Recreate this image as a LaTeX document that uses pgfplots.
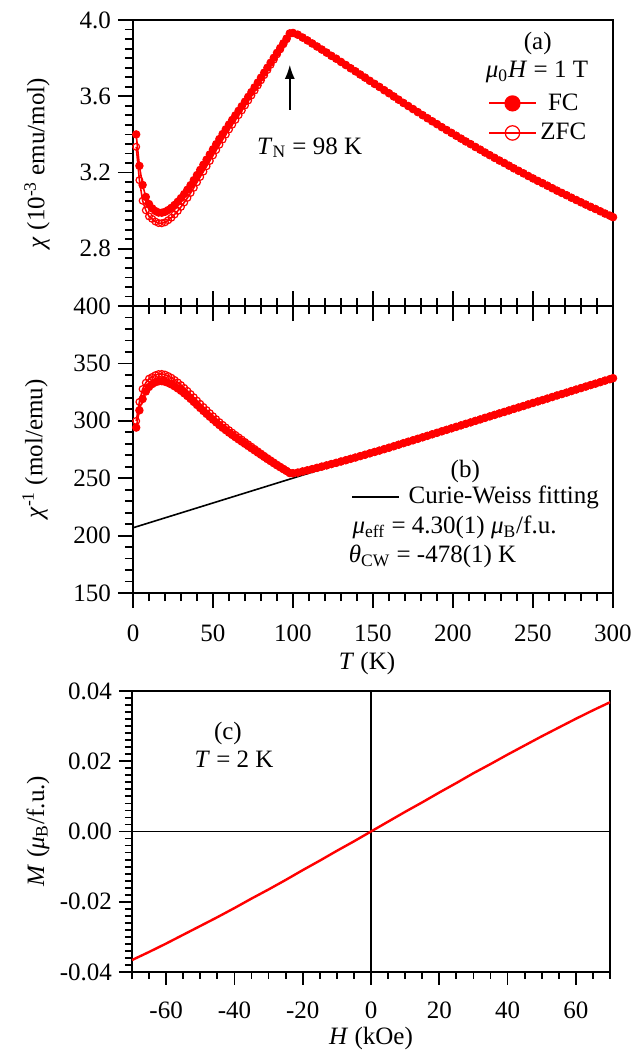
\documentclass[border=0pt]{standalone}
\usepackage{fontspec}
\setmainfont{Liberation Serif}
\usepackage{pgfplots}
\usepackage{pgfplotstable}
\pgfplotsset{compat=1.18}
\usetikzlibrary{arrows.meta}

% chi in 10^-3 emu/mol, FC and ZFC
\pgfplotstableread{
T fc zfc
2 3.400 3.335
4 3.235 3.160
6 3.135 3.052
8 3.072 3.002
10 3.035 2.970
12 3.012 2.957
14 2.998 2.943
16 2.990 2.935
18 2.989 2.934
20 2.994 2.939
22 3.003 2.950
24 3.015 2.963
26 3.030 2.980
28 3.047 2.999
30 3.066 3.020
32 3.087 3.043
34 3.110 3.067
36 3.134 3.093
38 3.160 3.120
40 3.187 3.149
42 3.214 3.177
44 3.241 3.205
46 3.268 3.233
48 3.295 3.261
50 3.322 3.290
52 3.349 3.318
54 3.376 3.346
56 3.402 3.373
58 3.427 3.399
60 3.452 3.426
62 3.476 3.451
64 3.500 3.476
66 3.524 3.501
68 3.548 3.526
70 3.572 3.552
72 3.597 3.578
74 3.622 3.604
76 3.647 3.630
78 3.672 3.657
80 3.698 3.684
82 3.724 3.711
84 3.750 3.738
86 3.776 3.765
88 3.802 3.792
90 3.828 3.820
92 3.853 3.846
94 3.878 3.873
96 3.903 3.899
98 3.930 3.928
100 3.932 3.932
103 3.923 3.923
106 3.908 3.908
109 3.893 3.893
112 3.877 3.877
115 3.861 3.861
118 3.845 3.845
121 3.829 3.829
124 3.812 3.812
127 3.797 3.797
130 3.780 3.780
133 3.764 3.764
136 3.747 3.747
139 3.731 3.731
142 3.714 3.714
145 3.698 3.698
148 3.681 3.681
151 3.665 3.665
154 3.649 3.649
157 3.632 3.632
160 3.616 3.616
163 3.599 3.599
166 3.582 3.582
169 3.565 3.565
172 3.549 3.549
175 3.533 3.533
178 3.517 3.517
181 3.501 3.501
184 3.485 3.485
187 3.469 3.469
190 3.454 3.454
193 3.438 3.438
196 3.423 3.423
199 3.408 3.408
202 3.393 3.393
205 3.378 3.378
208 3.363 3.363
211 3.349 3.349
214 3.334 3.334
217 3.320 3.320
220 3.305 3.305
223 3.291 3.291
226 3.277 3.277
229 3.263 3.263
232 3.250 3.250
235 3.236 3.236
238 3.222 3.222
241 3.209 3.209
244 3.196 3.196
247 3.182 3.182
250 3.169 3.169
253 3.156 3.156
256 3.144 3.144
259 3.131 3.131
262 3.118 3.118
265 3.105 3.105
268 3.093 3.093
271 3.081 3.081
274 3.068 3.068
277 3.056 3.056
280 3.044 3.044
283 3.032 3.032
286 3.020 3.020
289 3.009 3.009
292 2.997 2.997
295 2.985 2.985
298 2.974 2.974
300 2.966 2.966
}\chidata

% M(H) at 2 K
\pgfplotstableread{
H M
-70 -0.0366
-65 -0.0343
-60 -0.0319
-55 -0.0294
-50 -0.0269
-45 -0.0244
-40 -0.0218
-35 -0.0191
-30 -0.0165
-25 -0.0138
-20 -0.0110
-15 -0.0083
-10 -0.0055
-5 -0.0028
0 0.0000
5 0.0028
10 0.0056
15 0.0083
20 0.0111
25 0.0138
30 0.0166
35 0.0192
40 0.0219
45 0.0245
50 0.0271
55 0.0296
60 0.0321
65 0.0345
70 0.0368
}\mhdata

\pgfplotsset{
  panel/.style={
    scale only axis,
    axis line style={line width=0.9pt},
    tick style={black, line width=0.9pt},
    tick align=outside,
    major tick length=7.5pt,
    minor tick length=4pt,
    ytick pos=left,
    /pgf/number format/assume math mode=true,
    ticklabel style={font=\fontsize{12.5}{14}\selectfont},
    xticklabel style={yshift=-5pt},
  },
}

\begin{document}
\begin{tikzpicture}[font=\fontsize{12.5}{14.5}\selectfont]
\path[use as bounding box] (0,0) rectangle (317.5pt,-525.5pt);

% (a) chi vs T
\begin{axis}[panel,
  at={(66.5pt,-10pt)}, anchor=north west,
  width=240pt, height=143pt,
  xmin=0, xmax=300, ymin=2.5, ymax=4.0,
  xtick={0,50,...,300}, minor x tick num=4,
  xtick pos=bottom, xticklabels={},
  ytick={2.8,3.2,3.6,4.0},
  minor ytick={2.5,2.55,...,4.0},
  yticklabel style={/pgf/number format/.cd, fixed, fixed zerofill, precision=1},
  legend style={draw=none, fill=none, at={(0.74,0.758)}, anchor=north west,
    inner sep=0pt, row sep=1pt, font=\fontsize{12.5}{14.5}\selectfont},
  legend image code/.code={\draw[mark repeat=2,mark phase=2,#1,red,line width=0.9pt,mark size=3.6pt]
    plot coordinates {(0pt,0pt) (11.5pt,0pt) (23pt,0pt)};},
]
\addplot[red, line width=0.8pt, mark=*, mark size=1.7pt] table[x=T, y=fc] {\chidata};
\addplot[red, line width=0.8pt, mark=o, mark size=1.7pt, mark options={line width=0.6pt}] table[x=T, y=zfc] {\chidata};
\legend{FC, ZFC}
\draw[-{Latex[length=7pt,width=5pt]}, line width=0.9pt] (axis cs:98,3.53) -- (axis cs:98,3.765);
\node at (axis cs:110.4,3.33) {\textit{T}\textsubscript{N} = 98 K};
\node at (axis cs:253,3.879) {(a)};
\node at (axis cs:252.5,3.727) {\textit{μ}\textsubscript{0}\textit{H} = 1 T};
\end{axis}

% (b) inverse chi vs T
\begin{axis}[panel,
  at={(66.5pt,-153pt)}, anchor=north west,
  width=240pt, height=143.5pt,
  xmin=0, xmax=300, ymin=150, ymax=400,
  xtick={0,50,...,300}, minor x tick num=4,
  xtick pos=both, xticklabel pos=bottom,
  ytick={150,200,...,400}, minor y tick num=4,
]
\addplot[red, line width=0.8pt, mark=*, mark size=1.7pt] table[x=T, y expr=1000/\thisrow{fc}] {\chidata};
\addplot[red, line width=0.8pt, mark=o, mark size=1.7pt, mark options={line width=0.6pt}] table[x=T, y expr=1000/\thisrow{zfc}] {\chidata};
\addplot[black, line width=0.8pt] coordinates {(0,206.8) (297,335.3)};
\node at (axis cs:207.7,255.7) {(b)};
\draw[line width=0.9pt] (axis cs:137,233.3) -- (axis cs:166,233.3);
\node[anchor=west, inner sep=0pt] at (axis cs:172,233.3) {Curie-Weiss fitting};
\node[anchor=west, inner sep=0pt] at (axis cs:137,207.2) {\textit{μ}\textsubscript{eff} = 4.30(1) \textit{μ}\textsubscript{B}/f.u.};
\node[anchor=west, inner sep=0pt] at (axis cs:134.7,181.6) {\textit{θ}\textsubscript{CW} = -478(1) K};
\end{axis}

% (c) M vs H
\begin{axis}[panel,
  at={(66pt,-345.5pt)}, anchor=north west,
  width=239pt, height=140.5pt,
  xmin=-70, xmax=70, ymin=-0.04, ymax=0.04,
  major tick length=6.5pt, minor tick length=3.5pt,
  xtick={-60,-40,...,60}, minor xtick={-70,-65,...,70},
  xtick pos=bottom,
  ytick={-0.04,-0.02,0,0.02,0.04}, minor y tick num=9,
  scaled y ticks=false,
  yticklabel style={/pgf/number format/.cd, fixed, fixed zerofill, precision=2},
]
\draw[line width=0.8pt] (axis cs:0,-0.04) -- (axis cs:0,0.04);
\draw[line width=0.8pt] (axis cs:-70,0) -- (axis cs:70,0);
\addplot[red, line width=1.2pt] table[x=H, y=M] {\mhdata};
\node at (axis cs:-41.9,0.028) {(c)};
\node at (axis cs:-40.1,0.0206) {\textit{T} = 2 K};
\end{axis}

% axis titles
\node[rotate=90] at (18.5pt,-81.5pt) {\textit{χ} (10\textsuperscript{-3} emu/mol)};
\node[rotate=90] at (17.5pt,-224.5pt) {\textit{χ}\textsuperscript{-1} (mol/emu)};
\node[rotate=90] at (19pt,-415.5pt) {\textit{M} (\textit{μ}\textsubscript{B}/f.u.)};
\node at (183.5pt,-331.5pt) {\textit{T} (K)};
\node at (185.5pt,-519pt) {\textit{H} (kOe)};
\end{tikzpicture}
\end{document}
